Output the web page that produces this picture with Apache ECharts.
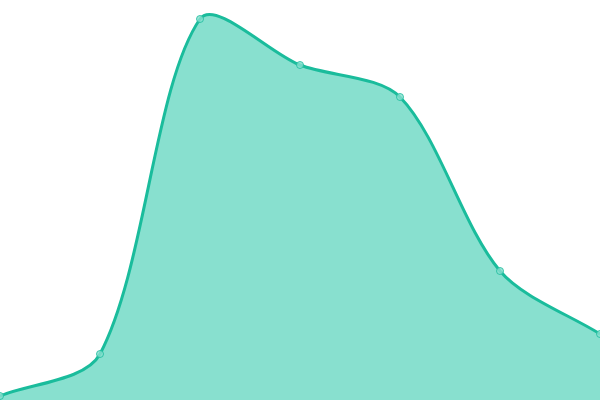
<!DOCTYPE html>
<html>
<head>
<meta charset="utf-8">
<script src="https://cdn.jsdelivr.net/npm/echarts@6/dist/echarts.min.js"></script>
<style>
  html, body { margin: 0; padding: 0; background: #fff; }
  #main { width: 600px; height: 400px; }
</style>
</head>
<body>
<div id="main"></div>
<script>
var categories = ["A", "B", "C", "D", "E", "F", "G"];
var values = [1, 11.5, 95.25, 83.75, 75.75, 32.25, 16.5];

var lineColor = "#1abc9c";
var areaColor = "#88e0cf";
var tension = 0.3;

var myChart = echarts.init(document.getElementById("main"));

// spline through the pixel points, control points weighted by segment length
function splinePath(pts) {
  var cps = [];
  for (var i = 0; i < pts.length; i++) {
    var prev = pts[i > 0 ? i - 1 : i];
    var cur = pts[i];
    var next = pts[i < pts.length - 1 ? i + 1 : i];
    var d01 = Math.hypot(cur[0] - prev[0], cur[1] - prev[1]);
    var d12 = Math.hypot(next[0] - cur[0], next[1] - cur[1]);
    var s01 = d01 / (d01 + d12) || 0;
    var s12 = d12 / (d01 + d12) || 0;
    var fa = tension * s01, fb = tension * s12;
    cps.push({
      inX: cur[0] - fa * (next[0] - prev[0]),
      inY: cur[1] - fa * (next[1] - prev[1]),
      outX: cur[0] + fb * (next[0] - prev[0]),
      outY: cur[1] + fb * (next[1] - prev[1])
    });
  }
  var d = "M" + pts[0][0] + " " + pts[0][1];
  for (var j = 1; j < pts.length; j++) {
    d += " C" + cps[j - 1].outX + " " + cps[j - 1].outY + " " +
      cps[j].inX + " " + cps[j].inY + " " + pts[j][0] + " " + pts[j][1];
  }
  return d;
}

function renderCurve(params, api) {
  if (params.dataIndex !== 0) return;
  var pts = values.map(function (v, i) { return api.coord([i, v]); });
  var base = api.coord([0, 0])[1];
  var line = splinePath(pts);
  var area = line + " L" + pts[pts.length - 1][0] + " " + base +
    " L" + pts[0][0] + " " + base + " Z";
  return {
    type: "group",
    children: [
      { type: "path", shape: { pathData: area }, style: { fill: areaColor } },
      { type: "path", shape: { pathData: line },
        style: { fill: null, stroke: lineColor, lineWidth: 3 } }
    ]
  };
}

var option = {
  animation: false,
  grid: { left: 0, right: 0, top: 0, bottom: 0 },
  xAxis: {
    type: "category",
    data: categories,
    boundaryGap: false,
    show: false
  },
  yAxis: {
    type: "value",
    min: 0,
    max: 100,
    show: false
  },
  series: [
    {
      type: "custom",
      renderItem: renderCurve,
      data: values,
      clip: false
    },
    {
      type: "scatter",
      data: values,
      symbol: "circle",
      symbolSize: 7,
      z: 3,
      itemStyle: { color: areaColor, borderColor: lineColor, borderWidth: 1 }
    }
  ]
};

myChart.setOption(option);
</script>
</body>
</html>
